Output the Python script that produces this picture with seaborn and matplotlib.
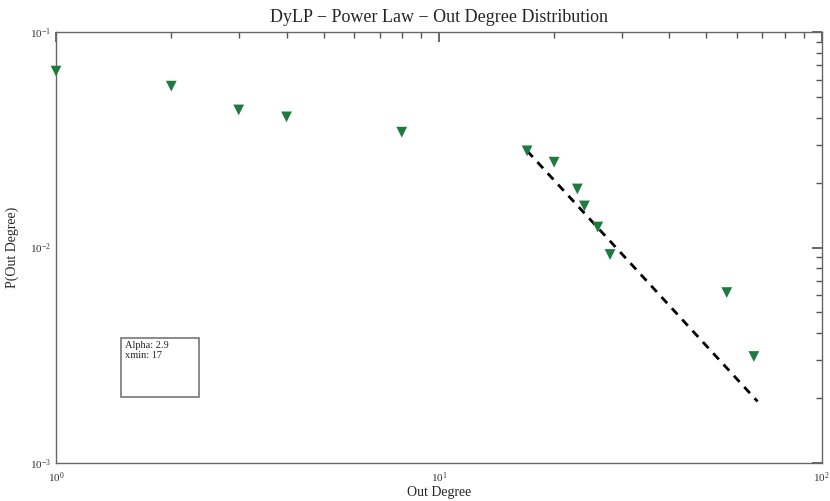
import matplotlib
matplotlib.use("Agg")
import matplotlib.pyplot as plt
import seaborn as sns
import pandas as pd
from matplotlib.patches import Rectangle

out_degree = [1, 2, 3, 4, 8, 17, 20, 23, 24, 26, 28, 56.5, 66.5]
prob = [0.0659, 0.0561, 0.0435, 0.0404, 0.0343, 0.0281, 0.0249, 0.0187,
        0.0156, 0.01245, 0.00928, 0.00618, 0.00312]
fit_x = [17, 68]
fit_y = [0.0281, 0.00193]
alpha_text = "Alpha: 2.9\nxmin: 17"

sns.set_theme(style="white")
plt.rcParams['font.family'] = ['Liberation Serif', 'DejaVu Serif']
plt.rcParams['mathtext.fontset'] = 'stix'

df = pd.DataFrame({"x": out_degree, "y": prob})
fig = plt.figure(figsize=(8.3, 5.01), dpi=100)
ax = fig.add_axes([0.0675, 0.0758, 0.9225, 0.8602])

ax.plot(fit_x, fit_y, linestyle=(0, (3, 2.5)), color="black", linewidth=2, zorder=2)
sns.scatterplot(data=df, x="x", y="y", marker="v", color="#1e7a3e", s=60,
                edgecolor="none", ax=ax, zorder=3, clip_on=False)

ax.set_xscale("log")
ax.set_yscale("log")
ax.set_xlim(1, 100)
ax.set_ylim(1e-3, 1e-1)

for sp in ax.spines.values():
    sp.set_color("#666666")
    sp.set_linewidth(1.0)
ax.tick_params(which="both", direction="in", top=True, right=True, colors="#555555",
               labelsize=8, labelcolor="#333333")
ax.tick_params(which="major", length=7)
ax.tick_params(which="minor", length=4)
ax.tick_params(axis="x", which="both", pad=5)

ax.set_title("DyLP \u2212 Power Law \u2212 Out Degree Distribution", fontsize=13, pad=7)
ax.set_xlabel("Out Degree", fontsize=10, labelpad=1)
ax.set_ylabel("P(Out Degree)", fontsize=10, labelpad=8)

ax.add_patch(Rectangle((0.085, 0.153), 0.102, 0.137, transform=ax.transAxes,
                       fill=False, edgecolor="#777777", linewidth=1.2))
ax.text(0.09, 0.283, alpha_text, transform=ax.transAxes, fontsize=7.5,
        va="top", ha="left", linespacing=1.1)

fig.savefig("out.png", dpi=100)
